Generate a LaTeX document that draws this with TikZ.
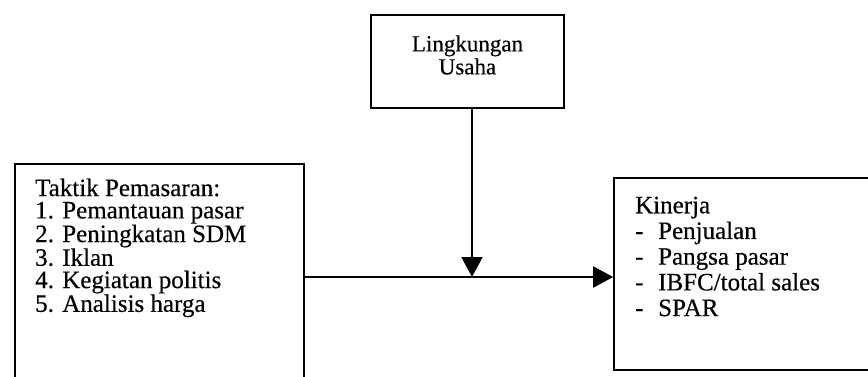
\documentclass[tikz,border=0pt]{standalone}
\usepackage{fontspec}
\setmainfont{Liberation Serif}[FakeBold=0.4]
\usetikzlibrary{arrows.meta}
\begin{document}
\begin{tikzpicture}[x=1pt,y=-1pt,
  boxstyle/.style={draw=black,line width=1.6pt,rectangle,inner sep=0pt},
  txt/.style={inner sep=0pt,align=left,anchor=north west},
  conn/.style={line width=2pt},
  tip/.style={-{Triangle[length=20pt,width=21pt]}}]
\useasboundingbox (0,0) rectangle (868,376);
\clip (0,0) rectangle (868,376);
\fill[white] (0,0) rectangle (868,376);
% boxes
\node[boxstyle,minimum width=289pt,minimum height=226pt] (lb) at (159.5,277) {};
\node[boxstyle,minimum width=193pt,minimum height=93pt] (tb) at (467.5,61.5) {};
\node[boxstyle,minimum width=280pt,minimum height=192pt] (rb) at (754,274) {};
% texts
\node[txt,font=\fontsize{25}{22.3}\selectfont] (lbt) at (35,178.5) {Taktik Pemasaran:\\1. Pemantauan pasar\\2. Peningkatan SDM\\3. Iklan\\4. Kegiatan politis\\5. Analisis harga};
\node[inner sep=0pt,align=center,font=\fontsize{23}{23}\selectfont] (tbt) at (467.5,55) {Lingkungan\\Usaha};
\node[txt,font=\fontsize{25}{25.7}\selectfont] (rbt) at (635,196.5) {Kinerja\\\makebox[23pt][l]{-}Penjualan\\\makebox[23pt][l]{-}Pangsa pasar\\\makebox[23pt][l]{-}IBFC/total sales\\\makebox[23pt][l]{-}SPAR};
% connectors
\coordinate (j) at (472,277);
\draw[conn,tip] (lb.east) -- (j) -- (rb.west |- j);
\draw[conn,tip] (tb.south -| j) -- (j);
\end{tikzpicture}
\end{document}
